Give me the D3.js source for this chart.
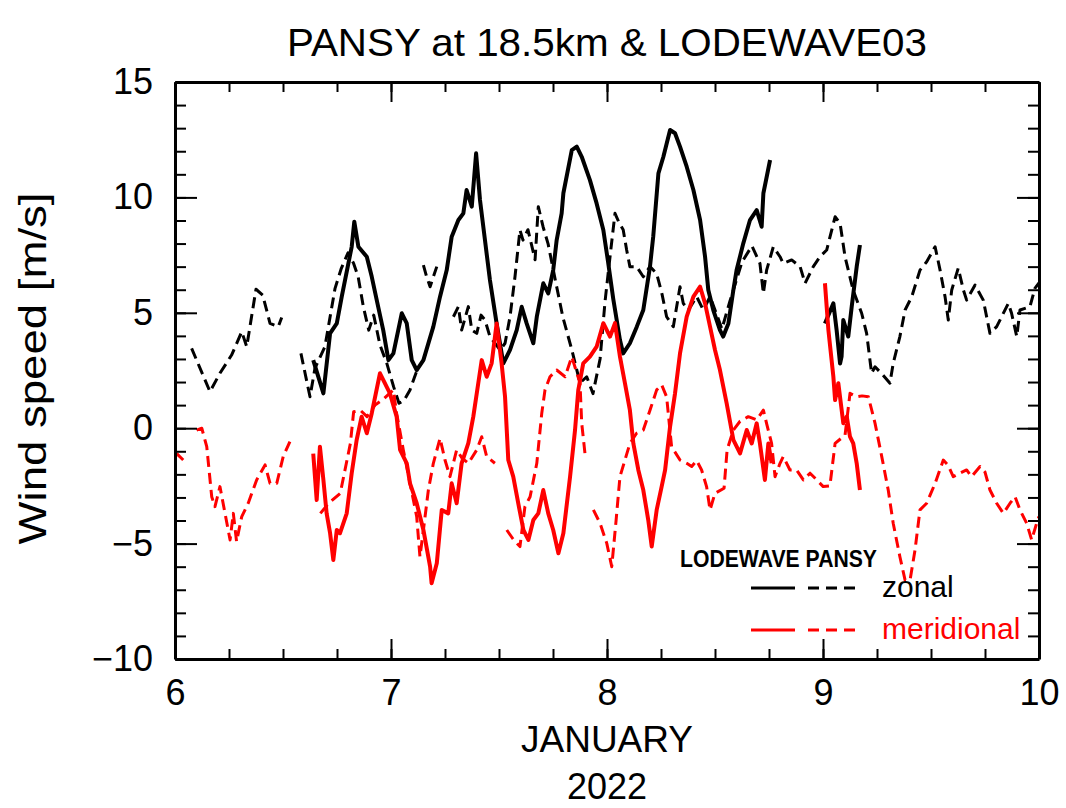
<!DOCTYPE html>
<html>
<head>
<meta charset="utf-8">
<script src="https://cdn.jsdelivr.net/npm/d3@7"></script>
<style>
    html, body { margin: 0; padding: 0; background: #fff; }
    #chart { width: 1066px; height: 808px; }
    text { font-family: "Liberation Sans", Arial, sans-serif; }
</style>
</head>
<body>
<div id="chart"></div>
<script>
// axis ticks
var dayTicks = [6, 7, 8, 9, 10];
var speedTicks = [-10, -5, 0, 5, 10, 15];

// LODEWAVE zonal (solid black), [day of January, m/s], null = gap
var lodeZonal = [
    [6.640, 2.95], [6.687, 1.51], [6.718, 4.11], [6.749, 4.54], [6.772, 5.70], [6.818, 7.86],
    [6.830, 8.95], [6.849, 7.86], [6.888, 7.43], [6.911, 6.56], [6.934, 5.55], [6.964, 4.25],
    [6.988, 2.95], [7.011, 3.24], [7.050, 4.98], [7.073, 4.54], [7.096, 2.95], [7.119, 2.52],
    [7.150, 2.95], [7.196, 4.40], [7.227, 5.70], [7.258, 6.85], [7.281, 8.30], [7.312, 9.02],
    [7.335, 9.31], [7.350, 10.32], [7.374, 9.60], [7.394, 11.91], [7.412, 9.89], [7.435, 8.15],
    [7.458, 6.42], [7.489, 4.54], [7.520, 2.81], [7.551, 3.39], [7.582, 4.25], [7.605, 5.26],
    [7.628, 4.54], [7.659, 3.68], [7.675, 4.83], [7.705, 6.28], [7.728, 5.84], [7.751, 6.85],
    [7.767, 8.15], [7.790, 9.31], [7.798, 10.18], [7.837, 12.05], [7.860, 12.20], [7.883, 11.76],
    [7.921, 10.75], [7.952, 9.74], [7.983, 8.59], [8.005, 7.20], [8.029, 5.60], [8.060, 3.82],
    [8.075, 3.24], [8.106, 3.68], [8.138, 4.40], [8.168, 5.12], [8.199, 7.00], [8.214, 8.30],
    [8.238, 11.04], [8.261, 11.76], [8.292, 12.92], [8.315, 12.78], [8.338, 12.20], [8.369, 11.33],
    [8.400, 10.32], [8.431, 9.02], [8.454, 7.43], [8.469, 5.99], [8.492, 5.12], [8.523, 4.25],
    [8.538, 3.97], [8.562, 4.54], [8.585, 5.99], [8.600, 6.85], [8.631, 8.01], [8.662, 9.02],
    [8.693, 9.45], [8.716, 8.73], [8.724, 10.18], [8.755, 11.62],
    null,
    [9.009, 4.54], [9.048, 5.41], [9.063, 4.25], [9.079, 2.80], [9.086, 3.10], [9.094, 4.69],
    [9.117, 3.97], [9.133, 5.27], [9.156, 7.00], [9.171, 7.94]
];

// LODEWAVE meridional (solid red)
var lodeMerid = [
    [6.640, -1.10], [6.656, -3.11], [6.671, -0.80], [6.687, -2.24], [6.702, -3.69], [6.718, -4.55],
    [6.733, -5.71], [6.749, -4.41], [6.764, -4.55], [6.795, -3.69], [6.818, -1.95], [6.841, -0.51],
    [6.864, 0.50], [6.888, -0.22], [6.911, 0.65], [6.949, 2.38], [6.964, 2.09], [6.995, 1.51],
    [7.026, 0.50], [7.042, -0.94], [7.073, -1.52], [7.088, -2.39], [7.119, -3.25], [7.150, -4.41],
    [7.181, -6.00], [7.188, -6.72], [7.212, -5.85], [7.235, -3.54], [7.265, -3.69], [7.281, -2.39],
    [7.304, -3.25], [7.327, -1.52], [7.358, -0.65], [7.381, 0.50], [7.404, 1.95], [7.420, 2.95],
    [7.443, 2.23], [7.466, 2.81], [7.489, 4.54], [7.512, 2.81], [7.528, 1.36], [7.543, -1.38],
    [7.566, -2.10], [7.589, -3.25], [7.613, -4.41], [7.636, -4.84], [7.659, -3.98], [7.682, -3.69],
    [7.705, -2.68], [7.728, -3.69], [7.751, -4.41], [7.775, -5.42], [7.798, -4.55], [7.829, -2.10],
    [7.852, -0.08], [7.867, 1.65], [7.890, 2.81], [7.921, 3.10], [7.952, 3.53], [7.983, 4.55],
    [8.014, 3.97], [8.037, 4.55], [8.060, 3.10], [8.083, 1.95], [8.106, 0.78], [8.122, -0.66],
    [8.145, -1.81], [8.168, -2.68], [8.191, -3.98], [8.207, -5.13], [8.230, -3.54], [8.253, -2.53],
    [8.269, -1.81], [8.292, 0.07], [8.315, 1.51], [8.338, 3.24], [8.369, 4.83], [8.400, 5.70],
    [8.431, 6.13], [8.454, 5.41], [8.477, 4.40], [8.500, 3.39], [8.523, 2.52], [8.554, 1.08],
    [8.585, -0.51], [8.616, -1.09], [8.647, -0.08], [8.670, -0.66], [8.693, 0.21], [8.708, -0.66],
    [8.731, -2.24], [8.747, -0.66], [8.762, -1.52],
    null,
    [9.009, 6.28], [9.025, 4.25], [9.048, 2.23], [9.056, 1.22], [9.071, 1.95], [9.094, 0.21],
    [9.110, 0.50], [9.125, -0.37], [9.140, -0.66], [9.156, -1.52], [9.171, -2.68]
];

// PANSY zonal (dashed black)
var pansyZonal = [
    [6.077, 3.46], [6.162, 1.58], [6.208, 2.38], [6.262, 3.17], [6.309, 4.18], [6.332, 3.53],
    [6.347, 4.40], [6.375, 6.02], [6.406, 5.77], [6.440, 4.54], [6.478, 4.40], [6.494, 4.80],
    null,
    [6.583, 3.24], [6.625, 1.36], [6.648, 2.60], [6.694, 3.53], [6.741, 6.06], [6.769, 6.90],
    [6.801, 7.60], [6.827, 7.14], [6.848, 6.56], [6.872, 5.26], [6.897, 4.25], [6.920, 4.90],
    [6.949, 3.60], [6.981, 2.80], [7.012, 1.80], [7.037, 1.08], [7.060, 1.20], [7.088, 1.66],
    [7.120, 2.50],
    null,
    [7.150, 7.07], [7.165, 6.56], [7.181, 6.13], [7.196, 6.56], [7.212, 7.00],
    null,
    [7.289, 4.83], [7.312, 5.27], [7.327, 4.25], [7.358, 5.27], [7.374, 4.25], [7.397, 4.11],
    [7.417, 4.90], [7.435, 4.69], [7.458, 3.97], [7.505, 3.39], [7.528, 3.68], [7.551, 4.83],
    [7.574, 6.56], [7.597, 8.59], [7.611, 8.15], [7.634, 8.60], [7.667, 7.30], [7.682, 9.60],
    [7.704, 8.73], [7.727, 8.00], [7.759, 6.50], [7.796, 4.80], [7.837, 3.40], [7.875, 1.96],
    [7.906, 2.23], [7.935, 1.50], [7.968, 3.00], [7.991, 5.50], [8.014, 7.43], [8.037, 9.31],
    [8.056, 8.90], [8.075, 8.60], [8.091, 7.72], [8.106, 7.00], [8.137, 7.00], [8.168, 6.56],
    [8.199, 7.00], [8.230, 6.70], [8.255, 5.80], [8.276, 4.83], [8.307, 4.40], [8.338, 6.13],
    [8.353, 5.41], [8.377, 5.12], [8.415, 5.70], [8.446, 5.12], [8.477, 5.70], [8.505, 5.00],
    [8.532, 4.30], [8.569, 5.50], [8.625, 7.20], [8.671, 7.90], [8.708, 7.14], [8.724, 5.84],
    [8.739, 6.85], [8.770, 7.86], [8.801, 7.43], [8.816, 7.14], [8.855, 7.29], [8.894, 7.00],
    [8.917, 6.28], [8.955, 7.00], [8.986, 7.43], [9.017, 7.72], [9.056, 9.16], [9.079, 8.88],
    [9.102, 7.43], [9.139, 6.00], [9.179, 4.98], [9.202, 4.11], [9.225, 2.38], [9.241, 2.66],
    [9.278, 2.30], [9.310, 1.95], [9.325, 2.81], [9.356, 3.97], [9.380, 5.12], [9.411, 5.70],
    [9.449, 6.85], [9.480, 7.21], [9.519, 7.86], [9.542, 6.85], [9.565, 5.70], [9.580, 4.69],
    [9.596, 5.99], [9.626, 6.93], [9.650, 5.99], [9.665, 5.55], [9.704, 6.20], [9.742, 5.55],
    [9.773, 4.11], [9.804, 4.40], [9.858, 5.41], [9.873, 4.98], [9.897, 3.97], [9.912, 5.12],
    [9.958, 5.26], [9.981, 6.06], [10.0, 6.30]
];

// PANSY meridional (dashed red)
var pansyMerid = [
    [6.008, -1.10], [6.038, -1.38],
    null,
    [6.100, -0.08], [6.124, 0.00], [6.147, -0.80], [6.170, -2.97], [6.185, -3.40], [6.208, -2.53],
    [6.255, -4.84], [6.270, -3.69], [6.285, -4.91], [6.309, -3.83], [6.339, -3.25], [6.378, -2.24],
    [6.417, -1.59], [6.440, -2.39], [6.471, -2.39], [6.501, -1.23], [6.532, -0.58],
    null,
    [6.673, -3.69], [6.712, -3.25], [6.765, -2.82], [6.812, -0.66], [6.827, 0.71], [6.858, 0.78],
    [6.889, 0.50], [6.926, 1.00], [6.970, 1.30], [7.011, 1.66], [7.026, 0.65], [7.057, -0.94],
    [7.088, -2.39], [7.119, -3.83], [7.134, -5.57], [7.150, -4.41], [7.173, -2.68], [7.196, -1.52],
    [7.227, -0.44], [7.250, -1.38], [7.273, -2.10], [7.304, -0.94], [7.329, -1.30], [7.358, -1.52],
    [7.397, -0.94], [7.420, -0.37], [7.443, -1.23], [7.481, -1.52],
    null,
    [7.536, -4.41], [7.565, -4.80], [7.597, -5.13], [7.620, -3.40], [7.644, -2.97], [7.675, -1.52],
    [7.698, 0.65], [7.713, 1.66], [7.736, 2.23], [7.767, 2.52], [7.806, 2.23], [7.837, 3.10],
    [7.875, 1.95], [7.883, 0.21], [7.898, -1.09],
    null,
    [7.937, -3.54], [7.968, -4.12], [7.999, -4.99], [8.022, -6.00], [8.042, -4.00], [8.060, -2.10],
    [8.083, -1.38], [8.106, -0.66], [8.137, -0.22], [8.168, -0.08], [8.199, 0.78], [8.230, 1.66],
    [8.253, 1.88], [8.276, 1.36], [8.299, -0.80], [8.338, -1.38], [8.369, -1.52], [8.392, -1.66],
    [8.415, -1.40], [8.438, -1.81], [8.461, -2.53], [8.477, -3.54], [8.500, -2.82], [8.542, -2.60],
    [8.556, -0.94], [8.585, -0.08], [8.616, 0.30], [8.654, 0.50], [8.693, 0.36], [8.724, 0.78],
    [8.739, 0.20], [8.762, -0.66], [8.778, -2.10], [8.801, -1.52], [8.816, -1.23], [8.847, -1.81],
    [8.878, -1.81], [8.909, -2.24], [8.940, -1.95], [8.971, -2.24], [9.001, -2.53], [9.032, -2.50],
    [9.056, -0.66], [9.102, -0.30], [9.125, 1.51], [9.156, 1.36], [9.181, 1.40], [9.210, 1.36],
    [9.241, 0.21], [9.272, -1.23], [9.302, -2.68], [9.325, -4.12], [9.356, -5.57], [9.380, -6.58],
    [9.403, -6.58], [9.426, -5.28], [9.449, -3.54], [9.480, -3.25], [9.519, -2.39], [9.557, -1.38],
    [9.579, -1.60], [9.603, -2.10], [9.634, -1.95], [9.665, -1.81], [9.688, -2.10], [9.727, -1.66],
    [9.750, -1.90], [9.773, -2.68], [9.804, -3.25], [9.835, -3.69], [9.866, -3.25], [9.889, -2.97],
    [9.912, -3.54], [9.943, -4.12], [9.966, -4.84], [9.989, -4.12], [10.0, -3.83]
];

var Chart = function() {

    var _Chart = function (opts) {
        this.element = opts.element;
        this.__init();
    }

    _Chart.prototype = {
        __init: function() {
            this.width = 1066;
            this.height = 808;
            this.margin = {
                top: 82,
                right: 27,
                bottom: 149,
                left: 175
            };
            this.innerW = this.width - this.margin.left - this.margin.right;
            this.innerH = this.height - this.margin.top - this.margin.bottom;

            var svg = d3.select(this.element)
                .append('svg')
                .attr('width', this.width)
                .attr('height', this.height);
            this.svg = svg;
            this.plat = svg.append('g').attr('transform', 'translate(' + this.margin.left + ',' + this.margin.top + ')');

            this.__createScales();
            this.__addLines();
            this.__addAxes();
            this.__addTexts();
            this.__addLegend();
        },
        __createScales: function() {
            this.xScale = d3.scaleLinear()
                .range([0, this.innerW])
                .domain([6, 10]);
            this.yScale = d3.scaleLinear()
                .range([this.innerH, 0])
                .domain([-10, 15]);
        },
        __addAxes: function() {
            var w = this.innerW, h = this.innerH;
            var minorX = d3.range(6, 10.001, 0.25);
            var minorY = d3.range(-10, 15.001, 1);
            var fmt = d3.format('d');

            // minor ticks first, everything points inward
            this.plat.append('g').attr('class', 'minor')
                .call(d3.axisLeft(this.yScale).tickValues(minorY).tickSize(-11).tickFormat(''));
            this.plat.append('g').attr('class', 'minor')
                .attr('transform', 'translate(' + w + ',0)')
                .call(d3.axisRight(this.yScale).tickValues(minorY).tickSize(-11).tickFormat(''));
            this.plat.append('g').attr('class', 'minor')
                .attr('transform', 'translate(0,' + h + ')')
                .call(d3.axisBottom(this.xScale).tickValues(minorX).tickSize(-10).tickFormat(''));
            this.plat.append('g').attr('class', 'minor')
                .call(d3.axisTop(this.xScale).tickValues(minorX).tickSize(-10).tickFormat(''));

            // major ticks
            this.plat.append('g').attr('class', 'y-axis')
                .call(d3.axisLeft(this.yScale).tickValues(speedTicks).tickFormat(fmt)
                    .tickSizeInner(-22).tickSizeOuter(0).tickPadding(22));
            this.plat.append('g').attr('class', 'major')
                .attr('transform', 'translate(' + w + ',0)')
                .call(d3.axisRight(this.yScale).tickValues(speedTicks)
                    .tickSizeInner(-22).tickSizeOuter(0).tickFormat(''));
            this.plat.append('g').attr('class', 'x-axis')
                .attr('transform', 'translate(0,' + h + ')')
                .call(d3.axisBottom(this.xScale).tickValues(dayTicks).tickFormat(fmt)
                    .tickSizeInner(-20).tickSizeOuter(0).tickPadding(20));
            this.plat.append('g').attr('class', 'major')
                .call(d3.axisTop(this.xScale).tickValues(dayTicks)
                    .tickSizeInner(-20).tickSizeOuter(0).tickFormat(''));

            this.plat.selectAll('.domain').attr('stroke', '#000').attr('stroke-width', 3);
            this.plat.selectAll('.tick line').attr('stroke', '#000').attr('stroke-width', 2);
            this.plat.selectAll('.minor .domain').remove();
            this.plat.selectAll('.tick text')
                .attr('fill', '#000')
                .style('font-size', '36px')
                .style('font-family', '"Liberation Sans", Arial, sans-serif');
        },
        __addLines: function() {
            var _this = this;
            var line = d3.line()
                .defined(function (d) { return d != null; })
                .x(function (d) { return _this.xScale(d[0]); })
                .y(function (d) { return _this.yScale(d[1]); });

            var series = [
                { data: pansyZonal, color: '#000', dash: '11,6', width: 3 },
                { data: pansyMerid, color: '#ff0000', dash: '11,6', width: 3 },
                { data: lodeZonal, color: '#000', dash: null, width: 4 },
                { data: lodeMerid, color: '#ff0000', dash: null, width: 4 }
            ];
            series.forEach(function (s) {
                _this.plat.append('path')
                    .attr('class', 'line')
                    .attr('d', line(s.data))
                    .style('fill', 'none')
                    .style('stroke', s.color)
                    .style('stroke-width', s.width)
                    .style('stroke-linejoin', 'round')
                    .style('stroke-dasharray', s.dash);
            });
        },
        __addTexts: function() {
            var svg = this.svg;
            var cx = this.margin.left + this.innerW / 2;

            svg.append('text')
                .attr('x', cx).attr('y', 56)
                .attr('text-anchor', 'middle')
                .attr('textLength', 640)
                .attr('lengthAdjust', 'spacingAndGlyphs')
                .style('font-size', '39px')
                .text('PANSY at 18.5km & LODEWAVE03');

            svg.append('text')
                .attr('x', cx).attr('y', 752)
                .attr('text-anchor', 'middle')
                .style('font-size', '37px')
                .text('JANUARY');
            svg.append('text')
                .attr('x', cx).attr('y', 799)
                .attr('text-anchor', 'middle')
                .style('font-size', '36px')
                .text('2022');

            svg.append('text')
                .attr('transform', 'translate(46,' + (this.margin.top + this.innerH / 2 - 2) + ') rotate(-90)')
                .attr('text-anchor', 'middle')
                .attr('textLength', 352)
                .attr('lengthAdjust', 'spacingAndGlyphs')
                .style('font-size', '38px')
                .text('Wind speed [m/s]');
        },
        __addLegend: function() {
            var svg = this.svg;
            svg.append('text')
                .attr('x', 680).attr('y', 567)
                .attr('textLength', 197)
                .attr('lengthAdjust', 'spacingAndGlyphs')
                .style('font-size', '23px')
                .style('font-weight', 'bold')
                .text('LODEWAVE PANSY');

            var rows = [
                { label: 'zonal', color: '#000', y: 588 },
                { label: 'meridional', color: '#ff0000', y: 630 }
            ];
            rows.forEach(function (r) {
                svg.append('line')
                    .attr('x1', 751).attr('x2', 795)
                    .attr('y1', r.y).attr('y2', r.y)
                    .style('stroke', r.color).style('stroke-width', 3);
                svg.append('line')
                    .attr('x1', 808).attr('x2', 856)
                    .attr('y1', r.y).attr('y2', r.y)
                    .style('stroke', r.color).style('stroke-width', 3)
                    .style('stroke-dasharray', '11,7');
                svg.append('text')
                    .attr('x', 882).attr('y', r.y + 9)
                    .style('font-size', '30px')
                    .style('fill', r.color)
                    .text(r.label);
            });
        }
    }

    return _Chart;
}.call(this);

new Chart({ element: document.getElementById('chart') });
</script>
</body>
</html>
